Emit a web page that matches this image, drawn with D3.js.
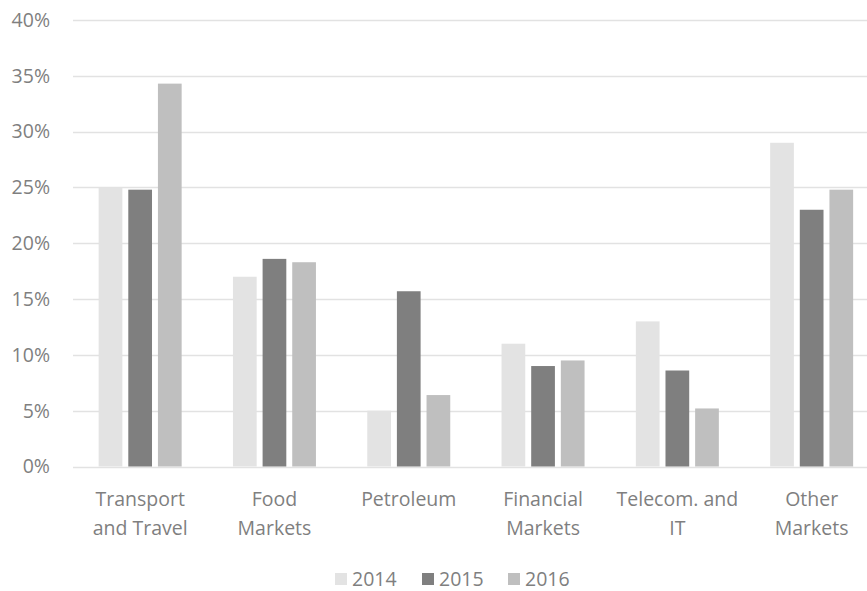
<!DOCTYPE html>
<html><head><meta charset="utf-8">
<script src="https://cdn.jsdelivr.net/npm/d3@7"></script>
<style>
html,body{margin:0;padding:0;background:#fff;}
svg{display:block;}
text{font-family:"Open Sans","Noto Sans",sans-serif;fill:#7f7f7f;}
</style></head>
<body>
<svg id="chart" width="867" height="591"></svg>
<script>
const categories = [["Transport","and Travel"],["Food","Markets"],["Petroleum"],["Financial","Markets"],["Telecom. and","IT"],["Other","Markets"]];
const seriesNames = ["2014","2015","2016"];
const values2014 = [25.0, 17.0, 5.0, 11.0, 13.0, 29.0];
const values2015 = [24.8, 18.6, 15.7, 9.0, 8.6, 23.0];
const values2016 = [34.3, 18.3, 6.4, 9.5, 5.2, 24.8];
const yTicks = [0,5,10,15,20,25,30,35,40];
const colors = ["#e3e3e3","#7f7f7f","#bfbfbf"];

const series = [values2014, values2015, values2016];
const svg = d3.select("#chart");
const plotLeft = 73, plotBottom = 466.5, plotTop = 20;
const bandW = 134.3;
const fontSize = 19.5;
const x = d3.scaleBand().domain(d3.range(categories.length)).range([plotLeft, plotLeft + bandW*categories.length]).paddingInner(0).paddingOuter(0);
const y = d3.scaleLinear().domain([0,40]).range([plotBottom, plotTop]);
const groupW = 83;
const x1 = d3.scaleBand().domain(d3.range(3)).range([0, groupW]).paddingInner(0.2).paddingOuter(0);

// gridlines
svg.append("g").selectAll("line").data(yTicks).join("line")
  .attr("x1", plotLeft).attr("x2", 867)
  .attr("y1", d => Math.round(y(d))+0.5).attr("y2", d => Math.round(y(d))+0.5)
  .attr("stroke", "#e2e2e2").attr("stroke-width", 1.5);

// y tick labels
svg.append("g").selectAll("text").data(yTicks).join("text")
  .attr("x", 50).attr("y", d => y(d)).attr("dy", "0.35em")
  .attr("text-anchor", "end").attr("font-size", fontSize)
  .text(d => d + "%");

// bars
const g = svg.append("g");
categories.forEach((c, i) => {
  const gx = x(i) + (x.bandwidth() - groupW)/2;
  series.forEach((s, j) => {
    g.append("rect")
      .attr("x", gx + x1(j)).attr("width", x1.bandwidth())
      .attr("y", y(s[i])).attr("height", y(0) - y(s[i]))
      .attr("fill", colors[j]);
  });
});

// category labels
svg.append("g").selectAll("text").data(categories).join("text")
  .attr("x", (d,i) => x(i) + x.bandwidth()/2)
  .attr("y", 506).attr("text-anchor", "middle").attr("font-size", fontSize)
  .each(function(d){
    const t = d3.select(this);
    d.forEach((line, k) => {
      t.append("tspan").attr("x", t.attr("x")).attr("dy", k === 0 ? 0 : 29).text(line);
    });
  });

// legend
const legendX = [335, 422, 508];
const leg = svg.append("g");
seriesNames.forEach((n, j) => {
  leg.append("rect").attr("x", legendX[j]).attr("y", 573).attr("width", 12).attr("height", 12).attr("fill", colors[j]);
  leg.append("text").attr("x", legendX[j] + 17).attr("y", 579).attr("dy", "0.35em").attr("font-size", fontSize).text(n);
});
</script>
</body></html>
